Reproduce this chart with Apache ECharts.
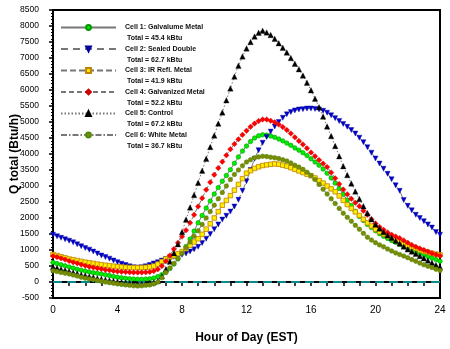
<!DOCTYPE html>
<html><head><meta charset="utf-8">
<script src="https://cdn.jsdelivr.net/npm/echarts@6/dist/echarts.min.js"></script>
<style>html,body{margin:0;padding:0;background:#fff}#c{width:450px;height:349px}</style>
</head><body><div id="c"></div>
<script>
// Quarter-hour sampling step (hours)
var STEP = 0.25;
var seriesNames = ['Cell 1: Galvalume Metal','Cell 2: Sealed Double','Cell 3: IR Refl. Metal','Cell 4: Galvanized Metal','Cell 5: Control','Cell 6: White Metal'];
var totals = ['Total = 45.4 kBtu','Total = 62.7 kBtu','Total = 41.9 kBtu','Total = 52.2 kBtu','Total = 67.2 kBtu','Total = 36.7 kBtu'];
var xTickLabels = [0,4,8,12,16,20,24];

var cell1 = [610,575,540,505,470,435,400,370,340,315,290,270,250,225,200,175,150,130,115,100,90,85,85,90,100,125,170,230,310,420,560,720,900,1110,1340,1590,1850,2080,2310,2530,2750,2950,3150,3330,3510,3710,3910,4090,4250,4390,4500,4570,4600,4590,4560,4520,4470,4410,4340,4270,4190,4120,4040,3950,3850,3750,3650,3530,3400,3250,3090,2920,2740,2560,2390,2210,2050,1920,1800,1700,1600,1510,1430,1360,1300,1240,1180,1110,1050,1000,950,900,850,800,750,700,650];
var cell2 = [1480,1430,1380,1335,1290,1240,1180,1120,1060,1010,950,890,830,780,730,670,620,570,530,490,460,450,460,490,530,580,620,670,720,760,790,820,850,890,950,1020,1100,1220,1350,1500,1650,1800,1950,2070,2200,2360,2570,2850,3150,3500,3850,4120,4350,4530,4700,4860,5000,5130,5240,5310,5360,5390,5400,5420,5420,5410,5390,5350,5290,5210,5120,5030,4940,4850,4750,4640,4510,4370,4210,4040,3860,3700,3540,3380,3210,3020,2850,2560,2380,2240,2100,2000,1900,1800,1700,1560,1480];
var cell3 = [860,830,790,755,720,695,670,645,620,600,580,560,540,525,510,495,480,470,460,455,450,450,450,460,470,500,560,640,720,780,820,880,950,1040,1150,1250,1350,1490,1650,1820,2000,2200,2400,2550,2700,2870,3050,3230,3400,3480,3550,3600,3640,3660,3680,3690,3680,3650,3620,3570,3520,3470,3420,3370,3320,3250,3170,3090,3000,2910,2820,2690,2550,2420,2300,2190,2080,1960,1850,1750,1650,1570,1500,1440,1380,1320,1260,1200,1150,1100,1050,1000,960,930,900,870,850];
var cell4 = [810,780,740,700,660,620,585,545,510,480,455,430,405,385,365,345,330,320,310,305,300,300,300,305,315,340,400,500,650,830,1030,1230,1420,1620,1850,2100,2360,2620,2880,3120,3350,3560,3760,3960,4150,4310,4460,4600,4730,4850,4950,5030,5080,5080,5040,4990,4920,4840,4750,4640,4520,4410,4300,4180,4050,3930,3810,3700,3590,3420,3240,3060,2890,2740,2600,2480,2370,2230,2100,1960,1830,1720,1630,1550,1480,1420,1370,1300,1230,1160,1100,1050,1000,950,900,860,820];
var cell5 = [470,440,400,365,330,300,265,230,200,170,145,115,90,70,50,30,10,-5,-20,-35,-50,-55,-55,-45,-30,-10,30,180,400,640,900,1180,1560,1950,2330,2720,3100,3480,3850,4220,4580,4950,5300,5680,6050,6420,6760,7050,7300,7500,7670,7790,7850,7800,7720,7600,7460,7320,7170,7000,6820,6650,6450,6230,5990,5730,5460,5170,4860,4560,4250,3930,3620,3340,3080,2830,2590,2370,2150,1960,1800,1670,1560,1460,1380,1290,1200,1110,1020,950,880,810,740,670,600,530,470];
var cell6 = [350,325,300,275,250,215,185,150,120,95,70,45,20,0,-20,-40,-60,-75,-90,-105,-120,-125,-120,-105,-90,-60,0,130,300,440,580,740,900,1070,1250,1430,1600,1800,2000,2200,2400,2600,2800,3000,3200,3360,3500,3630,3750,3820,3880,3910,3930,3920,3900,3880,3860,3820,3780,3720,3650,3590,3520,3430,3330,3200,3050,2900,2750,2600,2450,2300,2150,2020,1900,1770,1650,1520,1400,1310,1230,1160,1100,1030,970,910,860,810,760,700,650,590,540,490,450,400,360];

var values = [cell1, cell2, cell3, cell4, cell5, cell6];
function pairs(arr){ return arr.map(function(v,i){ return [i*STEP, v]; }); }

var styles = [
  {symbol:'circle', size:4.5, rot:0, fill:'#00ee00', border:'#009900', bw:0.6, line:'solid'},
  {symbol:'triangle', size:5, rot:180, fill:'#0000cc', border:'#000099', bw:0.4, line:[7,5]},
  {symbol:'rect', size:4.5, rot:0, fill:'#ffee00', border:'#c08000', bw:0.8, line:[6,3]},
  {symbol:'diamond', size:5.5, rot:0, fill:'#ff0000', border:'#cc0000', bw:0.4, line:[5,3]},
  {symbol:'triangle', size:5.5, rot:0, fill:'#000000', border:'#000000', bw:0.3, line:[1.5,2]},
  {symbol:'circle', size:4.5, rot:0, fill:'#7f8a00', border:'#4f8a10', bw:0.6, line:[6,2,1.5,2]}
];

var series = values.map(function(arr, k){
  var s = styles[k];
  return {
    name: seriesNames[k], type:'line', data: pairs(arr),
    symbol: s.symbol, symbolSize: s.size, symbolRotate: s.rot, showAllSymbol: true,
    itemStyle: {color: s.fill, borderColor: s.border, borderWidth: s.bw},
    lineStyle: {color:'#777', width:1, type: s.line},
    animation:false, z: 3 + k
  };
});
series.push({
  type:'line', data:[], silent:true, animation:false,
  markLine:{silent:true, symbol:'none', label:{show:false},
    lineStyle:{color:'#0a8a8a', width:2, type:[9,5]},
    data:[{yAxis:0}]}
});

var chart = echarts.init(document.getElementById('c'));
chart.setOption({
  animation:false,
  textStyle:{fontFamily:'Liberation Sans, Arial, sans-serif'},
  grid:{left:53, right:10, top:10, bottom:51, containLabel:false, outerBoundsMode:'none', show:true, borderColor:'#000', borderWidth:2, backgroundColor:'transparent'},
  legend:{
    orient:'vertical', left:60, top:11, padding:0, itemWidth:55, itemHeight:6, itemGap:-11.5,
    data: seriesNames,
    formatter:function(n){ var i = seriesNames.indexOf(n); return ' \n' + n + '\n ' + totals[i]; },
    textStyle:{fontFamily:'Liberation Sans Narrow, Liberation Sans, Arial', fontSize:7, lineHeight:11, color:'#111', fontWeight:'bold', padding:[0,0,0,4]}
  },
  xAxis:{
    type:'value', min:0, max:24, interval:1,
    name:'Hour of Day (EST)', nameLocation:'middle', nameGap:34,
    nameTextStyle:{fontSize:12, fontWeight:'bold', color:'#000'},
    axisLine:{lineStyle:{color:'#000', width:2}},
    axisTick:{show:true, length:4, lineStyle:{color:'#000', width:1.5}},
    axisLabel:{fontSize:10, color:'#000', margin:7, formatter:function(v){ return xTickLabels.indexOf(v) >= 0 ? String(v) : ''; }},
    splitLine:{show:false}
  },
  yAxis:{
    type:'value', min:-500, max:8500, interval:500,
    name:'Q total (Btu/h)', nameLocation:'middle', nameGap:32, nameMoveOverlap:false,
    nameTextStyle:{fontSize:12, fontWeight:'bold', color:'#000'},
    axisLine:{show:true, lineStyle:{color:'#000', width:2}},
    axisTick:{show:true, length:4, lineStyle:{color:'#000', width:1.5}},
    minorTick:{show:true, splitNumber:5, length:2, lineStyle:{color:'#000'}},
    axisLabel:{fontSize:8.5, color:'#000', margin:14, formatter:function(v){ return String(v); }},
    splitLine:{show:false}
  },
  series: series
});
</script>
</body></html>
